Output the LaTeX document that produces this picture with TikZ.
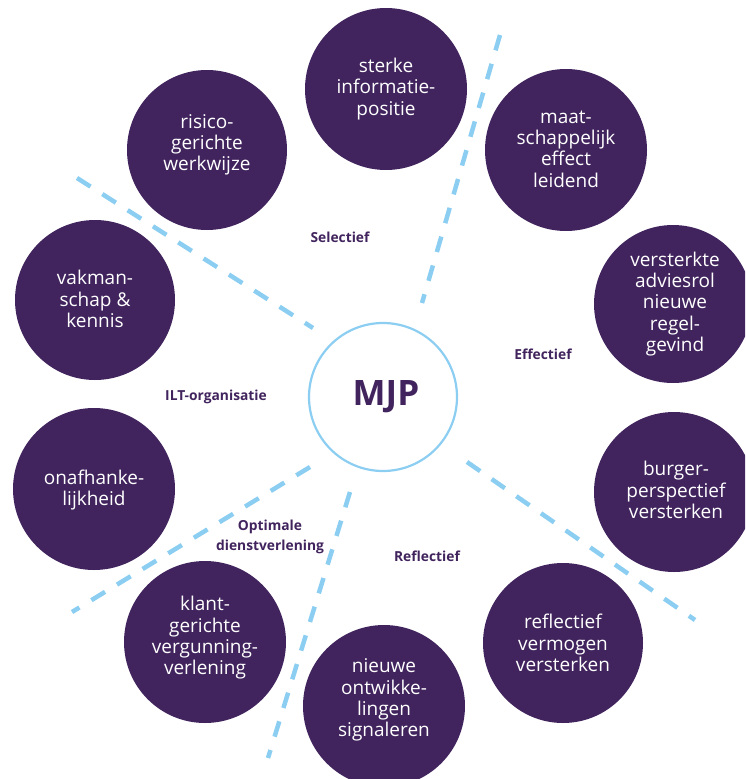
\documentclass[tikz,border=0pt]{standalone}
\usepackage{fontspec}
\setmainfont{Open Sans}
\definecolor{mjppurple}{RGB}{65,36,93}
\definecolor{mjpblue}{RGB}{140,206,242}
\begin{document}
\begin{tikzpicture}[x=1pt,y=-1pt,
  bubble/.style={circle,fill=mjppurple,inner sep=0pt},
  btext/.style={text=white,align=center,font=\fontsize{19}{21.3}\selectfont},
  sector/.style={text=mjppurple,align=center,font=\bfseries\fontsize{13.8}{20}\selectfont},
  divider/.style={draw=mjpblue,line width=4.5pt,dash pattern=on 16pt off 14pt}]
\useasboundingbox (0,0) rectangle (745,779);
\clip (0,0) rectangle (745,779);
% bubbles
\node[bubble,minimum size=162pt] (c1) at (386,89) {};
\node[btext] (t1) at (386,89) {sterke\\informatie-\\positie};
\node[bubble,minimum size=160pt] (c2) at (207,150) {};
\node[btext] (t2) at (207,145) {risico-\\gerichte\\werkwijze};
\node[bubble,minimum size=162pt] (c3) at (566,150) {};
\node[btext] (t3) at (566,149) {maat-\\schappelijk\\effect\\leidend};
\node[bubble,minimum size=158pt] (c4) at (673,304) {};
\node[btext] (t4) at (675,304) {versterkte\\adviesrol\\nieuwe\\regel-\\gevind};
\node[bubble,minimum size=160pt] (c5) at (674,492) {};
\node[btext] (t5) at (676,490) {burger-\\perspectief\\versterken};
\node[bubble,minimum size=160pt] (c6) at (563,643) {};
\node[btext] (t6) at (563,643) {reflectief\\vermogen\\versterken};
\node[bubble,minimum size=162pt] (c7) at (384,706) {};
\node[btext] (t7) at (384,700) {nieuwe\\ontwikke-\\lingen\\signaleren};
\node[bubble,minimum size=162pt] (c8) at (205,642) {};
\node[btext] (t8) at (205,638) {klant-\\gerichte\\vergunning-\\verlening};
\node[bubble,minimum size=162pt] (c9) at (94,489) {};
\node[btext] (t9) at (94,490) {onafhanke-\\lijkheid};
\node[bubble,minimum size=160pt] (c10) at (95,300) {};
\node[btext] (t10) at (95,299) {vakman-\\schap \&\\kennis};
% centre
\node[circle,draw=mjpblue,line width=2.2pt,fill=white,minimum size=148pt,inner sep=0pt] (mjp) at (383,397) {};
\node[text=mjppurple,font=\bfseries\fontsize{35}{40}\selectfont] (mjpt) at (386,397) {MJP};
% dividers
\coordinate (a1) at (77,178);  \coordinate (b1) at (313,328);
\coordinate (a2) at (500,35);  \coordinate (b2) at (422,303);
\coordinate (a3) at (467,462); \coordinate (b3) at (695,620);
\coordinate (a4) at (310,467); \coordinate (b4) at (72,612);
\coordinate (a5) at (350,492); \coordinate (b5) at (268,758);
\draw[divider] (a1) -- (b1);
\draw[divider] (a2) -- (b2);
\draw[divider] (a3) -- (b3);
\draw[divider] (a4) -- (b4);
\draw[divider] (a5) -- (b5);
% sector labels
\node[sector] (s1) at (340,237) {Selectief};
\node[sector] (s2) at (543,354) {Effectief};
\node[sector] (s3) at (216,397) {ILT-organisatie};
\node[sector] (s4) at (270,537) {Optimale\\dienstverlening};
\node[sector] (s5) at (427,556) {Reflectief};
\end{tikzpicture}
\end{document}
